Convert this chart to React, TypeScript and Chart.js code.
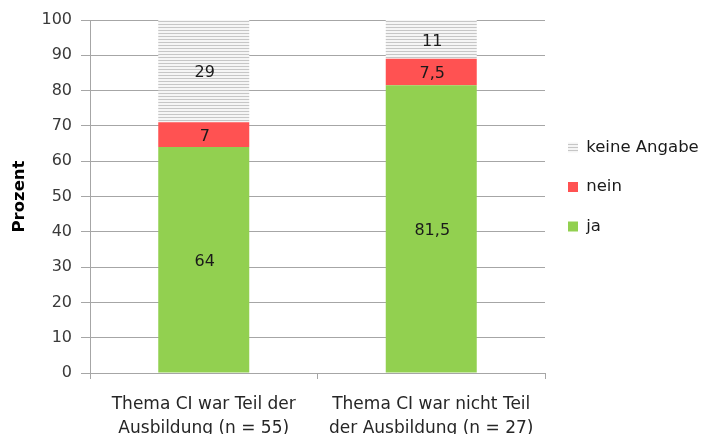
import React, { useEffect, useRef } from "react";
import { Chart, registerables } from "chart.js";

Chart.register(...registerables);

const categories: string[][] = [
  ["Thema CI war Teil der", "Ausbildung (n = 55)"],
  ["Thema CI war nicht Teil", "der Ausbildung (n = 27)"],
];
const jaValues = [64, 81.5];
const neinValues = [7, 7.5];
const keineAngabeValues = [29, 11];
const seriesNames = ["ja", "nein", "keine Angabe"];
const yMin = 0;
const yMax = 100;
const yStep = 10;

const FONT = "'DejaVu Sans', sans-serif";

function makeHatch(): CanvasPattern | string {
  const c = document.createElement("canvas");
  c.width = 4;
  c.height = 3;
  const ctx = c.getContext("2d");
  if (!ctx) return "#dddddd";
  ctx.fillStyle = "#f5f5f5";
  ctx.fillRect(0, 0, 4, 3);
  ctx.fillStyle = "#c6c6c6";
  ctx.fillRect(0, 0, 4, 1);
  return ctx.createPattern(c, "repeat") || "#dddddd";
}

const valueLabels = {
  id: "valueLabels",
  afterDatasetsDraw(chart: any) {
    const ctx = chart.ctx;
    ctx.save();
    ctx.font = `16px ${FONT}`;
    ctx.fillStyle = "#1a1a1a";
    ctx.textAlign = "center";
    ctx.textBaseline = "middle";
    chart.data.datasets.forEach((ds: any, di: number) => {
      const meta = chart.getDatasetMeta(di);
      meta.data.forEach((el: any, i: number) => {
        const v = ds.data[i];
        const p = el.getCenterPoint();
        ctx.fillText(String(v).replace(".", ","), p.x + 1, p.y + 2);
      });
    });
    ctx.restore();
  },
};

const legendShift = {
  id: "legendShift",
  afterLayout(chart: any) {
    const lg = chart.legend;
    if (lg) {
      lg.top -= 40;
      lg.bottom -= 40;
    }
  },
};

export default function App() {
  const ref = useRef<HTMLCanvasElement | null>(null);
  useEffect(() => {
    if (!ref.current) return;
    const hatch = makeHatch();
    const chart = new Chart(ref.current, {
      type: "bar",
      data: {
        labels: categories,
        datasets: [
          { label: seriesNames[0], data: jaValues, backgroundColor: "#92d050" },
          { label: seriesNames[1], data: neinValues, backgroundColor: "#ff5252" },
          { label: seriesNames[2], data: keineAngabeValues, backgroundColor: hatch as any },
        ],
      },
      options: {
        responsive: false,
        animation: false,
        events: [],
        datasets: { bar: { categoryPercentage: 1, barPercentage: 0.4 } },
        layout: { padding: { top: 20, left: 0, right: 0, bottom: 0 } },
        plugins: {
          tooltip: { enabled: false },
          legend: {
            position: "right",
            reverse: true,
            maxWidth: 156,
            labels: {
              font: { family: FONT, size: 16.5 },
              color: "#1a1a1a",
              boxWidth: 10,
              boxHeight: 10,
              padding: 23,
            },
          },
        },
        scales: {
          x: {
            stacked: true,
            grid: { display: true, drawOnChartArea: false, tickLength: 6, color: "#a6a6a6", offset: true },
            border: { color: "#a6a6a6" },
            ticks: {
              font: { family: FONT, size: 17, lineHeight: 1.41 },
              color: "#262626",
              padding: 14,
              maxRotation: 0,
              autoSkip: false,
            },
            afterFit: (s: any) => {
              s.height = 61;
            },
          },
          y: {
            stacked: true,
            min: yMin,
            max: yMax,
            ticks: { stepSize: yStep, font: { family: FONT, size: 16 }, color: "#3a3a3a", padding: 9 },
            grid: { color: "#a6a6a6", tickLength: 9 },
            border: { color: "#a6a6a6" },
            title: {
              display: true,
              text: "Prozent",
              font: { family: FONT, size: 16.5, weight: "bold" },
              color: "#000000",
              padding: { top: 10, bottom: 0 },
            },
            afterFit: (s: any) => {
              s.width = 90;
            },
          },
        },
      },
      plugins: [valueLabels, legendShift],
    });
    return () => chart.destroy();
  }, []);
  return (
    <div style={{ position: "absolute", left: 0, top: 0, width: 701, height: 434, background: "#fff" }}>
      <canvas ref={ref} width={701} height={434} />
    </div>
  );
}
